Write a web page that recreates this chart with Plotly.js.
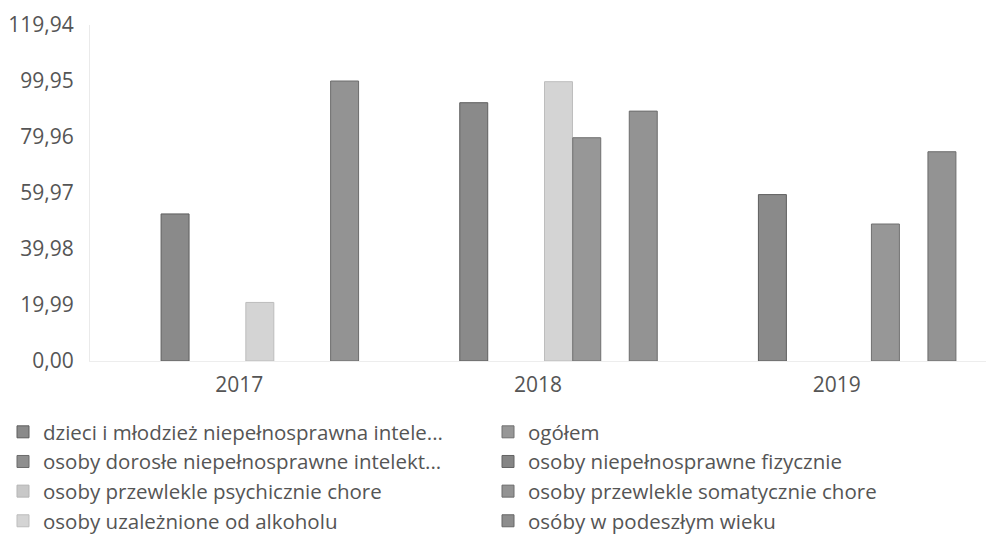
<!DOCTYPE html>
<html><head><meta charset="utf-8">
<script src="https://cdn.plot.ly/plotly-3.0.1.min.js"></script>
<style>html,body{margin:0;padding:0;background:#fff}</style>
</head><body><div id="chart" style="width:986px;height:541px"></div>
<script>
// ---- data ----
const categories = ['2017', '2018', '2019'];
const seriesNames = [
  'dzieci i młodzież niepełnosprawna intele...',
  'osoby dorosłe niepełnosprawne intelekt...',
  'osoby przewlekle psychicznie chore',
  'osoby uzależnione od alkoholu',
  'ogółem',
  'osoby niepełnosprawne fizycznie',
  'osoby przewlekle somatycznie chore',
  'osóby w podeszłym wieku'
];
const dzieci        = [52.5, 92.2, 59.4];
const dorosle       = [null, null, null];
const psychicznie   = [null, null, null];
const uzaleznione   = [20.9, 99.7, null];
const ogolem        = [null, 79.7, 48.9];
const fizycznie     = [null, null, null];
const somatycznie   = [99.95, 89.2, 74.7];
const podeszly      = [null, null, null];
const seriesValues = [dzieci, dorosle, psychicznie, uzaleznione, ogolem, fizycznie, somatycznie, podeszly];
const axisMax = 119.94;
const axisStep = 19.99;

// ---- styles ----
const fills = ['#8a8a8a', '#8f8f8f', '#c8c8c8', '#d4d4d4', '#979797', '#858585', '#939393', '#8d8d8d'];
const lines = ['#5e5e5e', '#6a6a6a', '#b5b5b5', '#bdbdbd', '#707070', '#626262', '#6c6c6c', '#676767'];
const slotW = 0.0946, slotStart = -0.262;

const traces = seriesValues.map((vals, i) => ({
  type: 'bar',
  name: seriesNames[i],
  x: categories,
  y: vals,
  width: slotW * 0.99,
  offset: slotStart + slotW * i,
  marker: {color: fills[i], line: {color: lines[i], width: 1}},
  legend: i < 4 ? 'legend' : 'legend2',
  hoverinfo: 'skip'
}));

const W = 986, H = 541, ML = 90, MR = 0, MT = 25, MB = 180;
const PW = W - ML - MR, PH = H - MT - MB;
const px2x = p => (p - ML) / PW;
const py2y = p => (H - MB - p) / PH;

const font = {family: '"Open Sans", "Noto Sans", sans-serif', size: 21, color: '#555555'};
const legendFont = {family: '"Open Sans", "Noto Sans", sans-serif', size: 20.5, color: '#555555'};
const layout = {
  width: W, height: H,
  margin: {l: ML, r: MR, t: MT, b: MB},
  paper_bgcolor: '#ffffff', plot_bgcolor: '#ffffff',
  separators: ', ',
  font: font,
  barmode: 'overlay',
  xaxis: {
    type: 'category', showgrid: false, zeroline: false,
    showline: true, linecolor: '#ededed', linewidth: 1,
    ticks: '', tickfont: font, ticklabelstandoff: 5, automargin: false
  },
  yaxis: {
    range: [0, axisMax], tick0: 0, dtick: axisStep, tickformat: '.2f',
    showgrid: false, zeroline: false, showline: true, linecolor: '#eaeaea',
    ticks: '', tickfont: font, ticklabelstandoff: 11, automargin: false
  },
  legend: {
    x: px2x(3), y: py2y(412),
    xanchor: 'left', yanchor: 'top', orientation: 'v',
    font: legendFont, bgcolor: 'rgba(0,0,0,0)', borderwidth: 0, traceorder: 'normal'
  },
  legend2: {
    x: px2x(488), y: py2y(412),
    xanchor: 'left', yanchor: 'top', orientation: 'v',
    font: legendFont, bgcolor: 'rgba(0,0,0,0)', borderwidth: 0, traceorder: 'normal'
  },
  showlegend: true
};
Plotly.newPlot('chart', traces, layout, {displayModeBar: false, staticPlot: true});
</script></body></html>
